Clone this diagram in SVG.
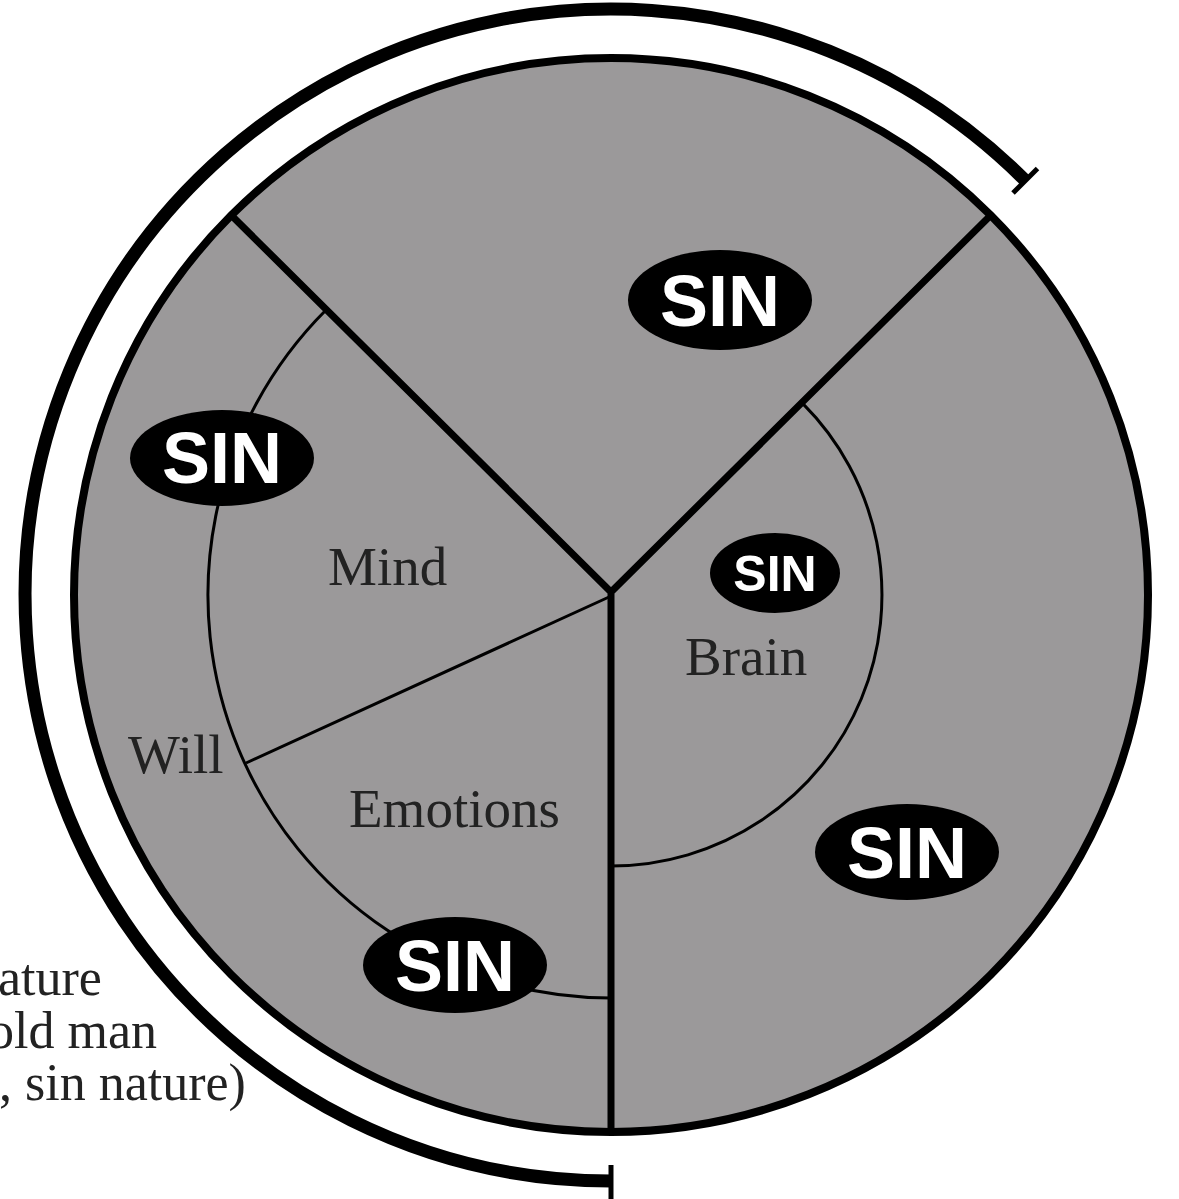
<svg xmlns="http://www.w3.org/2000/svg" width="1179" height="1199" viewBox="0 0 1179 1199">
<style>
.thick{fill:none;stroke:#000;stroke-width:7;stroke-linejoin:miter}
.thin{fill:none;stroke:#000;stroke-width:3}
.sin-e{fill:#000}
.sin-t{fill:#fff;font-family:"Liberation Sans",Arial,sans-serif;font-weight:bold;text-anchor:middle}
.lbl{fill:#222;font-family:"Liberation Serif","Times New Roman",serif;font-size:55px}
.side{fill:#222;font-family:"Liberation Serif","Times New Roman",serif;font-size:52px}
</style>
<rect width="1179" height="1199" fill="#fff"/>
<g id="body-circle">
<circle cx="611" cy="595" r="537" fill="#9b999a"/>
</g>
<g id="connectors">
<path class="thin" d="M326,310 A403,403 0 0 0 611,998"/>
<path class="thin" d="M802.6,403.4 A271,271 0 0 1 611,866"/>
<path class="thin" d="M609,597 L246,763"/>
<path class="thick" d="M231,215 L611,592 L991,215 M611,592 L611,1132"/>
</g>
<circle cx="611" cy="595" r="537" fill="none" stroke="#000" stroke-width="8"/>
<g id="sin-top"><ellipse class="sin-e" cx="720" cy="300" rx="92" ry="50"/><text class="sin-t" x="720" y="326" font-size="72">SIN</text></g>
<g id="sin-left"><ellipse class="sin-e" cx="222" cy="458" rx="92" ry="48"/><text class="sin-t" x="222" y="483" font-size="72">SIN</text></g>
<g id="sin-brain"><ellipse class="sin-e" cx="775" cy="573" rx="65" ry="40"/><text class="sin-t" x="775" y="591" font-size="50">SIN</text></g>
<g id="sin-right"><ellipse class="sin-e" cx="907" cy="852" rx="92" ry="48"/><text class="sin-t" x="907" y="878" font-size="72">SIN</text></g>
<g id="sin-bottom"><ellipse class="sin-e" cx="455" cy="965" rx="92" ry="48"/><text class="sin-t" x="455" y="991" font-size="72">SIN</text></g>
<g id="labels">
<text class="lbl" x="328" y="585">Mind</text>
<text class="lbl" x="128" y="773">Will</text>
<text class="lbl" x="349" y="827">Emotions</text>
<text class="lbl" x="685" y="675">Brain</text>
</g>
<g id="side-text">
<text class="side" x="-2" y="995">ature</text>
<text class="side" x="-12" y="1048">old man</text>
<text class="side" x="-1" y="1100">, sin nature)</text>
</g>
<g id="bracket">
<path d="M1025.4,180.6 A586,586 0 1 0 611,1181" fill="none" stroke="#000" stroke-width="13"/>
<line x1="1013" y1="193" x2="1037.5" y2="168.5" stroke="#000" stroke-width="5"/>
<line x1="611" y1="1165" x2="611" y2="1199" stroke="#000" stroke-width="5"/>
</g>
</svg>
